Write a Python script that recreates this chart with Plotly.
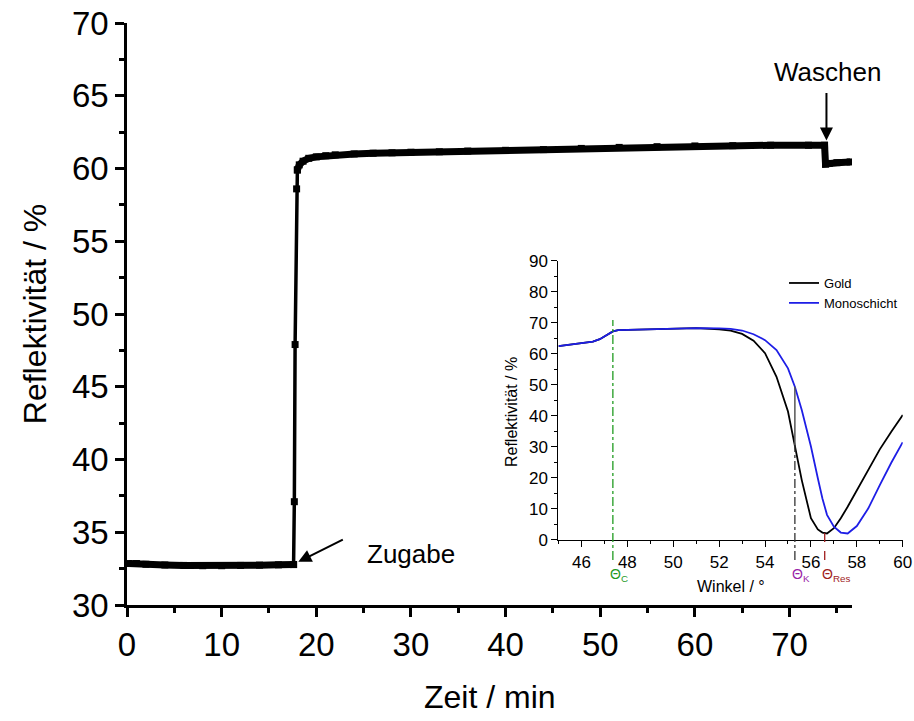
import plotly.graph_objects as go

# ---------------- data ----------------
time_min = [0.2, 1.0, 2.0, 4.0, 6.0, 8.0, 10.0, 12.0, 14.0, 16.0, 17.6,
            17.68, 17.76, 17.92, 18.0, 18.2, 18.6, 19.2, 20.0, 21.0, 22.0,
            24.0, 26.0, 28.0, 30.0, 33.0, 36.0, 40.0, 44.0, 48.0, 52.0,
            56.0, 60.0, 64.0, 68.0, 72.0, 73.7, 73.8, 74.2, 75.0, 76.4]
refl_main = [32.85, 32.85, 32.8, 32.75, 32.72, 32.7, 32.7, 32.72, 32.74, 32.76, 32.78,
             37.1, 47.9, 58.6, 59.9, 60.25, 60.5, 60.7, 60.8, 60.88, 60.94,
             61.0, 61.05, 61.08, 61.12, 61.15, 61.2, 61.25, 61.3, 61.38, 61.45,
             61.5, 61.55, 61.57, 61.6, 61.6, 61.6, 60.3, 60.35, 60.4, 60.45]
rise_start, rise_end = 10, 14   # indices of the steep rise segment

angle_gold = [45.0, 46.0, 46.5, 46.8, 47.1, 47.37, 47.6, 48.0, 49.0, 50.0, 51.0,
              52.0, 52.5, 53.0, 53.5, 54.0, 54.5, 55.0, 55.3, 55.6, 56.0, 56.3,
              56.5, 56.7, 57.0, 57.3, 57.6, 58.0, 58.5, 59.0, 59.5, 60.0]
refl_gold = [62.5, 63.4, 63.9, 64.7, 66.1, 67.2, 67.6, 67.7, 67.9, 68.2, 68.3,
             67.9, 67.5, 66.4, 64.2, 60.2, 52.6, 41.4, 30.6, 19.3, 7.0, 3.4,
             2.4, 2.1, 3.8, 7.0, 10.7, 16.1, 22.8, 29.2, 34.9, 40.3]
angle_mono = [45.0, 46.0, 46.5, 46.8, 47.1, 47.37, 47.6, 48.0, 49.0, 50.0, 51.0,
              52.0, 52.5, 53.0, 53.5, 54.0, 54.5, 55.0, 55.3, 55.6, 56.0, 56.3,
              56.5, 56.7, 57.0, 57.3, 57.6, 58.0, 58.5, 59.0, 59.5, 60.0]
refl_mono = [62.5, 63.4, 63.9, 64.7, 66.1, 67.2, 67.6, 67.7, 67.9, 68.2, 68.3,
             68.2, 68.0, 67.5, 66.3, 64.4, 61.2, 55.3, 49.4, 41.9, 30.1, 19.9,
             13.4, 8.1, 4.3, 2.4, 2.1, 4.5, 10.2, 17.7, 24.9, 31.5]

theta_labels = ["Θ<sub>C</sub>", "Θ<sub>K</sub>", "Θ<sub>Res</sub>"]
theta_angles = [47.37, 55.3, 56.6]
theta_colors = ["#1f9a1f", "#9a1fa8", "#a01c1c"]
theta_c_top = 70.9          # top of the Θc marker line
theta_k_low, theta_k_high = 30.6, 49.4   # Θk crossing of gold / monolayer
theta_res_top = 3.2

FONT = "Liberation Sans, Arial, sans-serif"
inset_yrange = [0, 90]

fig = go.Figure()

# main curve (thick plateaus, thin steep rise)
seg_thick1 = slice(0, rise_start + 1)
seg_thin = slice(rise_start, rise_end + 1)
seg_thick2 = slice(rise_end, len(time_min))
for sl, w in [(seg_thick1, 7), (seg_thin, 3.5), (seg_thick2, 7)]:
    fig.add_trace(go.Scatter(x=time_min[sl], y=refl_main[sl], mode="lines+markers",
                             line=dict(color="black", width=w),
                             marker=dict(symbol="square", size=7, color="black"),
                             showlegend=False, xaxis="x", yaxis="y"))

# inset curves
fig.add_trace(go.Scatter(x=angle_gold, y=refl_gold, mode="lines", name="Gold",
                         line=dict(color="black", width=1.8), xaxis="x2", yaxis="y2"))
fig.add_trace(go.Scatter(x=angle_mono, y=refl_mono, mode="lines", name="Monoschicht",
                         line=dict(color="#1e1ee6", width=1.8), xaxis="x2", yaxis="y2"))

span = inset_yrange[1] - inset_yrange[0]
below = -0.072
shapes = [
    dict(type="line", xref="x2", yref="y2 domain", x0=theta_angles[0], x1=theta_angles[0],
         y0=below, y1=theta_c_top / span, line=dict(color=theta_colors[0], width=1.3, dash="dashdot")),
    dict(type="line", xref="x2", yref="y2 domain", x0=theta_angles[1], x1=theta_angles[1],
         y0=below, y1=theta_k_low / span, line=dict(color="#333333", width=1.3, dash="dashdot")),
    dict(type="line", xref="x2", yref="y2 domain", x0=theta_angles[1], x1=theta_angles[1],
         y0=theta_k_low / span, y1=theta_k_high / span, line=dict(color="#555555", width=1.5)),
    dict(type="line", xref="x2", yref="y2 domain", x0=theta_angles[2], x1=theta_angles[2],
         y0=below, y1=theta_res_top / span, line=dict(color=theta_colors[2], width=1.3, dash="dash")),
]

annotations = [
    dict(text="Reflektivität / %", xref="paper", yref="paper", x=-0.118, y=0.5,
         textangle=-90, showarrow=False, font=dict(size=32, family=FONT, color="black"),
         xanchor="center", yanchor="middle"),
    dict(text="Zeit / min", xref="paper", yref="paper", x=0.466, y=-0.158,
         showarrow=False, font=dict(size=32, family=FONT, color="black"),
         xanchor="center", yanchor="middle"),
    dict(text="Reflektivität / %", xref="paper", yref="paper", x=0.4936, y=0.3316,
         textangle=-90, showarrow=False, font=dict(size=16, family=FONT, color="black"),
         xanchor="center", yanchor="middle"),
    dict(text="Winkel / °", xref="paper", yref="paper", x=0.776, y=0.0314,
         showarrow=False, font=dict(size=16, family=FONT, color="black"),
         xanchor="center", yanchor="middle"),
    # Zugabe
    dict(text="Zugabe", x=30.0, y=33.5, xref="x", yref="y", showarrow=False,
         font=dict(size=26, family=FONT, color="black"), xanchor="center", yanchor="middle"),
    dict(text="", x=18.1, y=32.97, xref="x", yref="y", showarrow=True, ax=46, ay=-23,
         arrowhead=2, arrowsize=1.3, arrowwidth=2, arrowcolor="black", standoff=0),
    # Waschen
    dict(text="Waschen", x=74.0, y=66.6, xref="x", yref="y", showarrow=False,
         font=dict(size=26, family=FONT, color="black"), xanchor="center", yanchor="middle"),
    dict(text="", x=73.9, y=61.93, xref="x", yref="y", showarrow=True, ax=0, ay=-49,
         arrowhead=2, arrowsize=1.3, arrowwidth=2, arrowcolor="black", standoff=0),
]
for lab, ang, col in zip(theta_labels, theta_angles, theta_colors):
    annotations.append(dict(text=lab, x=ang, y=0.052, xref="x2", yref="paper",
                            showarrow=False, xanchor="left", yanchor="middle", xshift=-5,
                            font=dict(size=14, family=FONT, color=col)))

fig.update_layout(
    width=914, height=721,
    margin=dict(l=127, r=9, t=23, b=116, autoexpand=False),
    paper_bgcolor="white", plot_bgcolor="white",
    font=dict(family=FONT, color="black"),
    xaxis=dict(domain=[0, 0.9319], range=[0, 76.6], anchor="y", automargin=False,
               showline=True, linewidth=2.5, linecolor="black", mirror=False,
               ticks="outside", ticklen=9, tickwidth=2.5, tickcolor="black",
               dtick=10, tick0=0, showgrid=False, zeroline=False, ticklabeloverflow="allow",
               tickfont=dict(size=33, family=FONT),
               minor=dict(dtick=5, ticks="outside", ticklen=5, tickwidth=2.5, tickcolor="black")),
    yaxis=dict(domain=[0, 1], range=[30, 70], anchor="x", automargin=False,
               showline=True, linewidth=2.5, linecolor="black",
               ticks="outside", ticklen=9, tickwidth=2.5, tickcolor="black",
               dtick=5, tick0=30, showgrid=False, zeroline=False, ticklabeloverflow="allow",
               tickfont=dict(size=33, family=FONT),
               minor=dict(dtick=2.5, ticks="outside", ticklen=5, tickwidth=2.5, tickcolor="black")),
    xaxis2=dict(domain=[0.5546, 0.9971], range=[45, 60], anchor="y2", automargin=False,
                showline=True, linewidth=1.4, linecolor="black",
                ticks="outside", ticklen=6, tickwidth=1.3, tickcolor="black",
                dtick=2, tick0=46, showgrid=False, zeroline=False, ticklabeloverflow="allow",
                tickfont=dict(size=17, family=FONT),
                minor=dict(dtick=1, ticks="outside", ticklen=3, tickwidth=1.3, tickcolor="black")),
    yaxis2=dict(domain=[0.1117, 0.5916], range=inset_yrange, anchor="x2", automargin=False,
                showline=True, linewidth=1.4, linecolor="black",
                ticks="outside", ticklen=6, tickwidth=1.3, tickcolor="black",
                dtick=10, tick0=0, showgrid=False, zeroline=False, ticklabeloverflow="allow",
                tickfont=dict(size=17, family=FONT),
                minor=dict(dtick=5, ticks="outside", ticklen=3, tickwidth=1.3, tickcolor="black")),
    legend=dict(x=0.8445, y=0.579, xanchor="left", yanchor="top",
                font=dict(size=13, family=FONT), bgcolor="rgba(0,0,0,0)",
                borderwidth=0, tracegroupgap=0, itemwidth=30),
    shapes=shapes,
    annotations=annotations,
)

# remove the default 8 px page margin so the 914x721 figure fills the window exactly
fig.write_html("out.html", config={"displayModeBar": False},
               post_script="document.body.style.margin='0';")
